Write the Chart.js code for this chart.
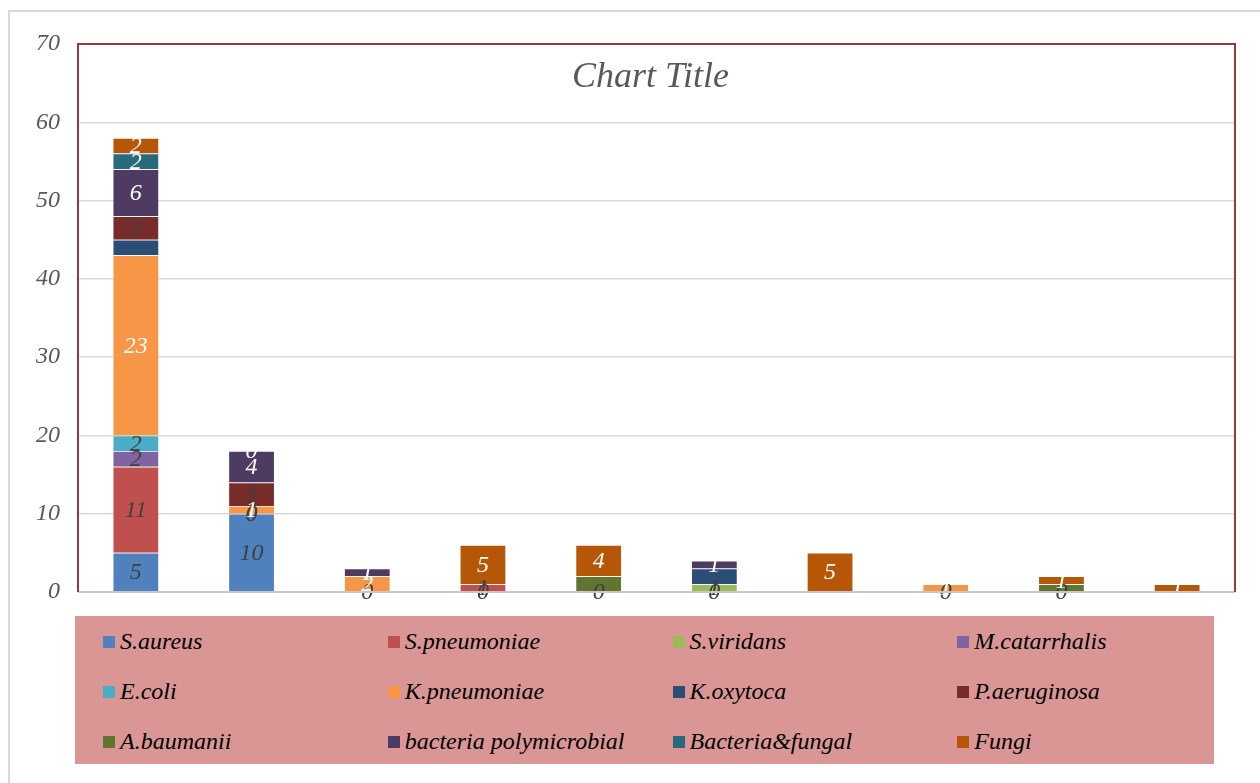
<!DOCTYPE html>
<html>
<head>
<meta charset="utf-8">
<script src="https://cdn.jsdelivr.net/npm/chart.js"></script>
<style>
body { margin: 0; background: #fff; overflow: hidden; }
#wrap { position: relative; width: 1260px; height: 783px; overflow: hidden; }
#frame { position: absolute; left: 8px; top: 10px; width: 1300px; height: 900px; border: 2px solid #d9d9d9; }
#chart { position: absolute; left: 0; top: 0; }
#legend {
  position: absolute; left: 75px; top: 616px; width: 1139px; height: 148px;
  background: #d99694; box-sizing: border-box; padding-left: 28px;
  display: grid; grid-template-columns: repeat(4, 284.75px); grid-auto-rows: 50px; align-items: center;
  font: italic 24px "Liberation Serif", serif; color: #000;
}
#legend span.box { display: inline-block; width: 12px; height: 12px; margin-right: 5px; vertical-align: 1px; }
</style>
</head>
<body>
<div id="wrap">
  <div id="frame"></div>
  <canvas id="chart" width="1260" height="783"></canvas>
  <div id="legend"></div>
</div>
<script>
// categories (no labels shown on the axis)
const categories = ["1", "2", "3", "4", "5", "6", "7", "8", "9", "10"];

// series
const seriesNames = ["S.aureus", "S.pneumoniae", "S.viridans", "M.catarrhalis",
  "E.coli", "K.pneumoniae", "K.oxytoca", "P.aeruginosa",
  "A.baumanii", "bacteria polymicrobial", "Bacteria&fungal", "Fungi"];

const sAureus      = [5, 10, 0, 0, 0, 0, null, 0, 0, null];
const sPneumoniae  = [11, 0, null, 1, null, null, null, null, null, null];
const sViridans    = [null, null, null, null, null, 1, null, null, null, null];
const mCatarrhalis = [2, 0, null, null, null, null, null, null, null, null];
const eColi        = [2, null, null, null, null, null, null, null, null, null];
const kPneumoniae  = [23, 1, 2, null, null, null, null, 1, null, null];
const kOxytoca     = [2, null, null, null, null, 2, null, null, null, null];
const pAeruginosa  = [3, 3, null, null, null, null, null, null, null, null];
const aBaumanii    = [null, null, null, null, 2, null, null, null, 1, null];
const polymicrob   = [6, 4, 1, null, null, 1, null, null, null, null];
const bactFungal   = [2, 0, null, null, null, null, null, null, null, null];
const fungi        = [2, null, null, 5, 4, null, 5, null, 1, 1];

const seriesValues = [sAureus, sPneumoniae, sViridans, mCatarrhalis, eColi, kPneumoniae,
  kOxytoca, pAeruginosa, aBaumanii, polymicrob, bactFungal, fungi];

const yTicks = [0, 10, 20, 30, 40, 50, 60, 70];

const colors = ["#4f81bd", "#c0504d", "#9bbb59", "#8064a2", "#4bacc6", "#f79646",
  "#2c4d75", "#772c2a", "#5f7530", "#4d3b62", "#276a7c", "#b65708"];
// data label colour per series (null = no label)
const labelColors = ["#404040", "#404040", "#404040", "#404040", "#404040", "#ffffff",
  null, "#404040", null, "#ffffff", "#ffffff", "#ffffff"];

const datasets = seriesNames.map((name, i) => ({
  label: name,
  data: seriesValues[i],
  backgroundColor: colors[i],
  borderColor: "rgba(255,255,255,0.3)",
  borderWidth: 0.75,
  barPercentage: 0.4,
  categoryPercentage: 1
}));

// data labels
const valueLabels = {
  id: "valueLabels",
  afterDatasetsDraw(chart) {
    const ctx = chart.ctx;
    ctx.save();
    ctx.font = "italic 24px 'Liberation Serif', serif";
    ctx.textAlign = "center";
    ctx.textBaseline = "middle";
    chart.data.datasets.forEach((ds, i) => {
      if (!labelColors[i]) return;
      const meta = chart.getDatasetMeta(i);
      meta.data.forEach((bar, j) => {
        const v = ds.data[j];
        if (v === null || v === undefined) return;
        ctx.fillStyle = labelColors[i];
        ctx.fillText(String(v), bar.x, (bar.y + bar.base) / 2 + 1);
      });
    });
    ctx.restore();
  }
};

// plot border + title inside plot area
const plotFrame = {
  id: "plotFrame",
  afterDraw(chart) {
    const { ctx, chartArea: a } = chart;
    ctx.save();
    ctx.strokeStyle = "#d0c4c6";
    ctx.lineWidth = 2;
    ctx.beginPath();
    ctx.moveTo(a.left, a.bottom);
    ctx.lineTo(a.right, a.bottom);
    ctx.stroke();
    ctx.strokeStyle = "#9b3a3a";
    ctx.lineWidth = 2;
    ctx.beginPath();
    ctx.moveTo(a.left, a.bottom);
    ctx.lineTo(a.left, a.top);
    ctx.lineTo(a.right, a.top);
    ctx.lineTo(a.right, a.bottom);
    ctx.stroke();
    ctx.fillStyle = "#595959";
    ctx.font = "italic 36px 'Liberation Serif', serif";
    ctx.textAlign = "center";
    ctx.textBaseline = "middle";
    ctx.fillText("Chart Title", (a.left + a.right) / 2 - 6, a.top + 34);
    ctx.restore();
  }
};

new Chart(document.getElementById("chart"), {
  type: "bar",
  data: { labels: categories, datasets: datasets },
  options: {
    responsive: false,
    animation: false,
    layout: { padding: { left: 0, top: 44, right: 25, bottom: 191 } },
    plugins: { legend: { display: false }, title: { display: false }, tooltip: { enabled: false } },
    scales: {
      x: {
        stacked: true,
        display: false
      },
      y: {
        stacked: true,
        min: 0,
        max: 70,
        afterFit(scale) { scale.width = 78; },
        afterBuildTicks(scale) { scale.ticks = yTicks.map(v => ({ value: v })); },
        border: { display: false },
        grid: { color: "#d9d9d9", lineWidth: 1.5, drawTicks: false },
        ticks: {
          padding: 18,
          color: "#595959",
          font: { family: "'Liberation Serif', serif", style: "italic", size: 24 }
        }
      }
    }
  },
  plugins: [valueLabels, plotFrame]
});

// legend
const legend = document.getElementById("legend");
seriesNames.forEach((name, i) => {
  const item = document.createElement("div");
  item.innerHTML = `<span class="box" style="background:${colors[i]}"></span>${name}`;
  legend.appendChild(item);
});
</script>
</body>
</html>
